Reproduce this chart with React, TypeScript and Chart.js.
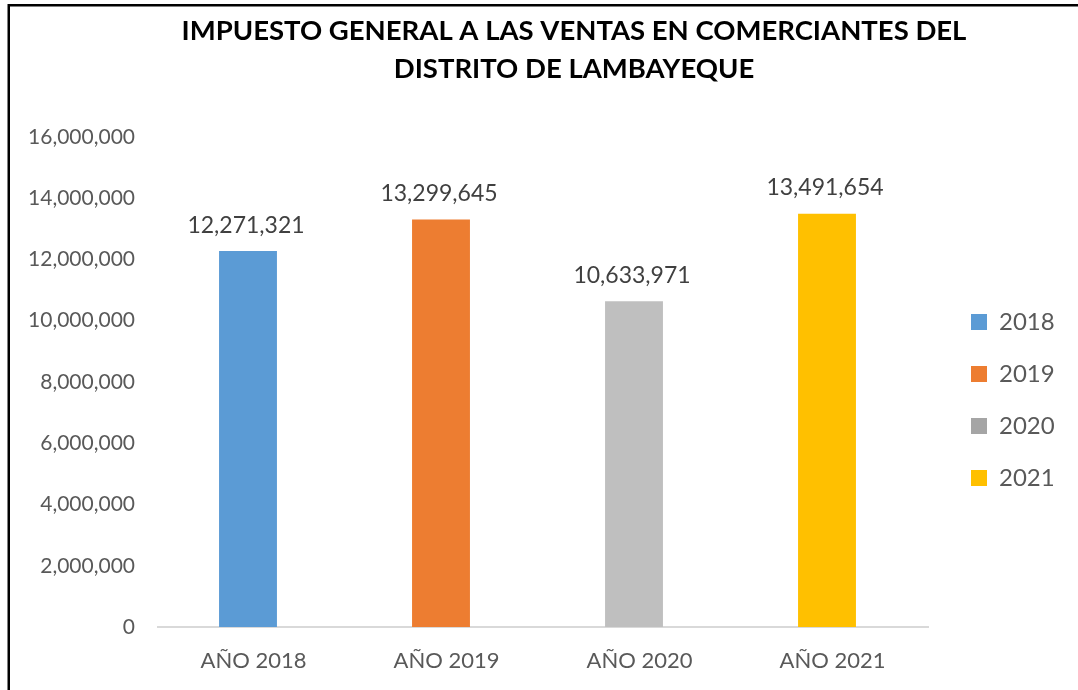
import React, { useEffect, useRef } from 'react';
import { Chart, registerables } from 'chart.js';

Chart.register(...registerables);

const categories = ['AÑO 2018', 'AÑO 2019', 'AÑO 2020', 'AÑO 2021'];
const seriesNames = ['2018', '2019', '2020', '2021'];
const values = [12271321, 13299645, 10633971, 13491654];
const barColors = ['#5B9BD5', '#ED7D31', '#BFBFBF', '#FFC000'];
const legendColors = ['#5B9BD5', '#ED7D31', '#A5A5A5', '#FFC000'];
const yMin = 0;
const yMax = 16000000;
const yStep = 2000000;
const titleLines = ['IMPUESTO GENERAL A LAS VENTAS EN COMERCIANTES DEL', 'DISTRITO DE LAMBAYEQUE'];

const FONT = 'Lato, "Noto Sans", sans-serif';
const fmt = (v: number) => Number(v).toLocaleString('en-US');
const LABEL_SHIFT = 5.5;

const framePlugin = {
  id: 'frame',
  beforeDraw(chart: any) {
    const ctx = chart.ctx;
    ctx.save();
    ctx.strokeStyle = '#000000';
    ctx.lineWidth = 2.5;
    ctx.beginPath();
    ctx.moveTo(8.75, chart.height);
    ctx.lineTo(8.75, 5.25);
    ctx.lineTo(chart.width, 5.25);
    ctx.stroke();
    ctx.restore();
  },
};

const baseline = {
  id: 'baseline',
  beforeDatasetsDraw(chart: any) {
    const { ctx, chartArea } = chart;
    const y = chart.scales.y.getPixelForValue(0);
    ctx.save();
    ctx.strokeStyle = '#D9D9D9';
    ctx.lineWidth = 2;
    ctx.beginPath();
    ctx.moveTo(chartArea.left + LABEL_SHIFT, y);
    ctx.lineTo(chartArea.right + LABEL_SHIFT, y);
    ctx.stroke();
    ctx.restore();
  },
};

const layoutTweaks = {
  id: 'layoutTweaks',
  beforeLayout(chart: any) {
    const lg = chart.legend;
    if (lg && !lg.__patched) {
      const orig = lg.fit.bind(lg);
      lg.fit = function () {
        orig();
        this.width = 154.5;
      };
      lg.__patched = true;
    }
  },
  afterLayout(chart: any) {
    const lg = chart.legend;
    if (lg) {
      lg.left += 19.5;
      lg.right += 19.5;
      lg.top += 18;
      lg.bottom += 18;
    }
    const tb = chart.titleBlock;
    if (tb) {
      tb.left += 35;
      tb.right += 35;
    }
  },
};

const dataLabels = {
  id: 'dataLabels',
  afterDatasetsDraw(chart: any) {
    const ctx = chart.ctx;
    ctx.save();
    ctx.font = `23px ${FONT}`;
    ctx.fillStyle = '#404040';
    ctx.textAlign = 'center';
    ctx.textBaseline = 'middle';
    chart.data.datasets.forEach((ds: any, di: number) => {
      const meta = chart.getDatasetMeta(di);
      meta.data.forEach((el: any, i: number) => {
        const v = ds.data[i];
        if (v === null || v === undefined) return;
        ctx.fillText(fmt(v), el.x - 2, el.y - 26);
      });
    });
    ctx.restore();
  },
};

export default function App() {
  const ref = useRef<HTMLCanvasElement | null>(null);

  useEffect(() => {
    if (!ref.current) return;
    const chart = new Chart(ref.current, {
      type: 'bar',
      data: {
        labels: categories,
        datasets: seriesNames.map((name, i) => ({
          label: name,
          data: categories.map((_, j) => (j === i ? values[i] : null)),
          backgroundColor: barColors[i],
          borderWidth: 0,
        })),
      },
      options: {
        animation: false,
        responsive: false,
        devicePixelRatio: 1,
        layout: { padding: 0 },
        skipNull: true,
        datasets: { bar: { barPercentage: 0.3, categoryPercentage: 1 } },
        plugins: {
          title: {
            display: true,
            text: titleLines,
            color: '#000000',
            font: { family: FONT, size: 27.5, weight: 'bold', lineHeight: 1.38 },
            padding: { top: 12, bottom: 49 },
          },
          legend: {
            display: true,
            position: 'right',
            fullSize: false,
            align: 'center',
            labels: {
              boxWidth: 16,
              boxHeight: 16,
              padding: 28,
              color: '#595959',
              font: { family: FONT, size: 24 },
              generateLabels(chart: any) {
                const items = Chart.defaults.plugins.legend.labels.generateLabels(chart);
                return items.map((it: any, i: number) => ({
                  ...it,
                  fillStyle: legendColors[i],
                  strokeStyle: legendColors[i],
                  lineWidth: 0,
                }));
              },
            },
          },
          tooltip: { enabled: false },
        },
        scales: {
          x: {
            grid: { display: false, drawTicks: false },
            border: { display: false },
            ticks: {
              color: '#595959',
              font: { family: FONT, size: 22 },
              padding: 21,
              labelOffset: LABEL_SHIFT,
            },
            afterFit(scale: any) {
              scale.height = 63;
            },
          },
          y: {
            min: yMin,
            max: yMax,
            grid: { display: false, drawTicks: false },
            border: { display: false },
            ticks: {
              stepSize: yStep,
              color: '#595959',
              font: { family: FONT, size: 21 },
              padding: 16.5,
              callback: (v: any) => fmt(v),
            },
            afterFit(scale: any) {
              scale.width = 151.5;
            },
          },
        },
      } as any,
      plugins: [framePlugin, baseline, layoutTweaks, dataLabels],
    });
    return () => chart.destroy();
  }, []);

  return (
    <div style={{ position: 'fixed', left: 0, top: 0, width: 1078, height: 690, background: '#ffffff' }}>
      <canvas ref={ref} width={1078} height={690} />
    </div>
  );
}
